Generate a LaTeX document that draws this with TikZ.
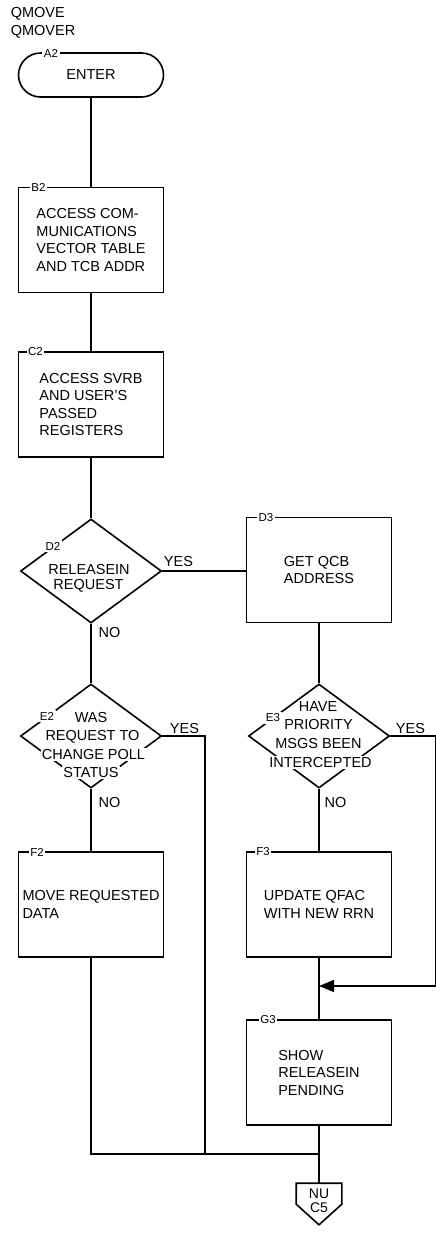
\documentclass[tikz,border=0pt]{standalone}
\usepackage{fontspec}
\setmainfont{Liberation Sans}
\usetikzlibrary{shapes.geometric,arrows.meta}

\newcommand{\boxfont}{\fontsize{14.5pt}{17.5pt}\selectfont}
\newcommand{\tagfont}{\fontsize{11.5pt}{13pt}\selectfont}
\newcommand{\connfont}{\fontsize{14pt}{14pt}\selectfont}

\begin{document}
\begin{tikzpicture}[x={(1pt, 0pt)}, y={(0pt, -1pt)}, line width=1.6pt,
    proc/.style={draw, align=left, font=\boxfont, minimum width=145pt, minimum height=105pt},
    term/.style={draw, rounded corners=22pt, font=\boxfont, minimum width=145pt, minimum height=44pt},
    decision/.style={draw, diamond, minimum width=141pt, minimum height=104pt, inner sep=0pt},
    dline/.style={fill=white, font=\boxfont, inner xsep=1pt, inner ysep=1pt, text height=10.5pt, text depth=0pt},
    tag/.style={fill=white, font=\tagfont, inner sep=1.5pt},
    answer/.style={font=\boxfont, inner sep=0pt},
    conn/.style={font=\connfont, align=center, inner sep=0pt, minimum width=44pt, minimum height=34pt}]
  \useasboundingbox (0, 0) rectangle (436, 1235);

  \node[anchor=north west, align=left, inner sep=0pt, font=\boxfont] (title) at (10, 7) {QMOVE\\QMOVER};

  % left column
  \node[term] (a2) at (91, 75) {ENTER};
  \node[proc] (b2) at (91, 240) {ACCESS COM-\\MUNICATIONS\\VECTOR TABLE\\AND TCB ADDR};
  \node[proc] (c2) at (91, 404.5) {ACCESS SVRB\\AND USER'S\\PASSED\\REGISTERS};
  \node[decision] (d2) at (91, 571) {};
  \node[decision] (e2) at (91, 736) {};
  \node[proc] (f2) at (91, 904.5) {MOVE REQUESTED\\DATA};

  % right column
  \node[proc] (d3) at (319, 570) {GET QCB\\ADDRESS};
  \node[decision] (e3) at (319, 736) {};
  \node[proc] (f3) at (319, 904.5) {UPDATE QFAC\\WITH NEW RRN};
  \node[proc] (g3) at (319, 1072.5) {SHOW\\RELEASEIN\\PENDING};
  \node[conn] (nuc5) at (319, 1201) {NU\\C5};
  \draw (nuc5.north west) -- (nuc5.north east) -- ++(0, 21) -- ([yshift=-6pt]nuc5.south)
    -- ([yshift=-21pt]nuc5.north west) -- cycle;

  % decision texts, one line at a time so the edges show between lines
  \foreach \t/\x/\y [count=\i] in {RELEASEIN/89/569, REQUEST/88.5/584} {
    \node[dline] (d2l\i) at (\x, \y) {\t};
  }
  \foreach \t/\x/\y [count=\i] in {WAS/91/717, REQUEST TO/92.5/735.5,
                                   CHANGE POLL/93.5/754.5, STATUS/91/772.5} {
    \node[dline] (e2l\i) at (\x, \y) {\t};
  }
  \foreach \t/\x/\y [count=\i] in {HAVE/318/706.5, PRIORITY/318.5/724.5,
                                   MSGS BEEN/318.5/743.5, INTERCEPTED/320.5/762.5} {
    \node[dline] (e3l\i) at (\x, \y) {\t};
  }

  % block ids
  \node[tag] (a2tag) at (51, 53) {A2};
  \node[tag] (b2tag) at (38.5, 187.5) {B2};
  \node[tag] (c2tag) at (35.5, 352) {C2};
  \node[tag] (d2tag) at (53, 546) {D2};
  \node[tag] (d3tag) at (266, 517.5) {D3};
  \node[tag] (e2tag) at (47, 716) {E2};
  \node[tag] (e3tag) at (273, 718) {E3};
  \node[tag] (f2tag) at (37, 852) {F2};
  \node[tag] (f3tag) at (263, 852) {F3};
  \node[tag] (g3tag) at (268, 1020) {G3};

  \node[answer] (d2yes) at (178.5, 561) {YES};
  \node[answer] (d2no) at (109.5, 632.5) {NO};
  \node[answer] (e2yes) at (184.5, 728) {YES};
  \node[answer] (e2no) at (109.5, 802) {NO};
  \node[answer] (e3yes) at (410.5, 728) {YES};
  \node[answer] (e3no) at (335.5, 802) {NO};

  \coordinate (tee) at (205, 1154);
  \coordinate (join) at (319, 1154);
  \coordinate (merge) at (319, 986);

  \draw (a2) -- (b2);
  \draw (b2) -- (c2);
  \draw (c2) -- (d2);
  \draw (d2.east) -- (d2.east -| d3.west);
  \draw (d2) -- (e2);
  \draw (d3) -- (e3);
  \draw (e2) -- (f2);
  \draw (e3) -- (f3);
  \draw (e2.east) -| (tee);
  \draw (f2) |- (join);
  \draw (f3) -- (g3);
  \draw[-{Triangle[length=15pt, width=12pt]}] (e3.east) -- ++(45, 0) |- (merge);
  \draw (g3) -- (nuc5);
\end{tikzpicture}
\end{document}
